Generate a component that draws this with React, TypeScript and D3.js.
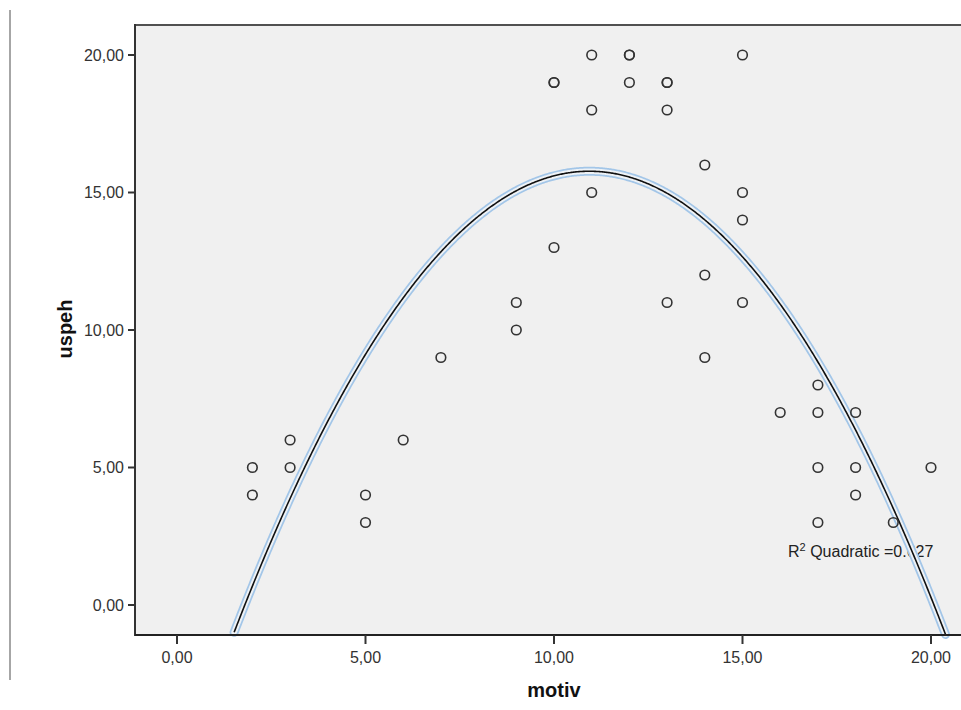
import React from 'react';
import * as d3 from 'd3';

// observations (motiv, uspeh)
const motiv = [2, 2, 3, 3, 5, 5, 6, 7, 9, 9, 10, 10, 10, 11, 11, 11, 12, 12, 12, 13, 13, 13, 13, 14, 14, 14, 15, 15, 15, 15, 16, 17, 17, 17, 17, 18, 18, 18, 19, 20];
const uspeh = [5, 4, 6, 5, 4, 3, 6, 9, 11, 10, 19, 19, 13, 20, 18, 15, 20, 20, 19, 19, 19, 18, 11, 16, 12, 9, 20, 15, 14, 11, 7, 8, 7, 5, 3, 7, 5, 4, 3, 5];
const xTicks = [0, 5, 10, 15, 20];
const yTicks = [0, 5, 10, 15, 20];

// quadratic least squares fit
function fitQuadratic(xs: number[], ys: number[]) {
    const S = [0, 0, 0, 0, 0];
    const T = [0, 0, 0];
    xs.forEach((x, i) => {
        for (let k = 0; k < 5; k++) S[k] += Math.pow(x, k);
        for (let k = 0; k < 3; k++) T[k] += Math.pow(x, k) * ys[i];
    });
    const m = [
        [S[0], S[1], S[2], T[0]],
        [S[1], S[2], S[3], T[1]],
        [S[2], S[3], S[4], T[2]],
    ];
    for (let c = 0; c < 3; c++) {
        for (let r = c + 1; r < 3; r++) {
            const f = m[r][c] / m[c][c];
            for (let k = c; k < 4; k++) m[r][k] -= f * m[c][k];
        }
    }
    const b = [0, 0, 0];
    for (let r = 2; r >= 0; r--) {
        let s = m[r][3];
        for (let k = r + 1; k < 3; k++) s -= m[r][k] * b[k];
        b[r] = s / m[r][r];
    }
    const f = (x: number) => b[0] + b[1] * x + b[2] * x * x;
    const mean = d3.mean(ys) as number;
    const sst = d3.sum(ys, y => (y - mean) ** 2);
    const sse = d3.sum(xs, (x, i) => (ys[i] - f(x)) ** 2);
    return { f, r2: 1 - sse / sst };
}

export default function App() {
    const width = 961, height = 710;
    const left = 135, right = 961, top = 25, bottom = 635;

    const x = d3.scaleLinear().domain([0, 20]).range([177, 931]);
    const y = d3.scaleLinear().domain([0, 20]).range([605, 55]);
    const fmt = (v: number) => d3.format('.2f')(v).replace('.', ',');

    const fit = fitQuadratic(motiv, uspeh);
    const x0 = x.invert(left), x1 = x.invert(right);
    const yMin = y.invert(bottom);
    const samples = d3.range(0, 801).map(i => x0 + (x1 - x0) * i / 800)
        .map(v => [v, fit.f(v)] as [number, number])
        .filter(p => p[1] >= yMin);
    const line = d3.line<[number, number]>().x(d => x(d[0])).y(d => y(d[1]));
    const path = line(samples) || '';

    const font = 'Arial, "Liberation Sans", sans-serif';

    return (
        <svg width={width} height={height} style={{ position: 'absolute', left: 0, top: 0, background: '#fff' }}>
            <line x1={10} x2={10} y1={10} y2={680} stroke="#888" strokeWidth={1.5} />
            <rect x={left} y={top} width={right - left} height={bottom - top} fill="#f0f0f0" />
            <line x1={left} x2={right} y1={top} y2={top} stroke="#505050" strokeWidth={2} />

            <text x={788} y={557} fontFamily={font} fontSize={16} fill="#222">
                R<tspan dy={-6} fontSize={11}>2</tspan><tspan dy={6}> Quadratic =</tspan>{fit.r2.toFixed(3)}
            </text>

            <defs>
                <clipPath id="plotClip">
                    <rect x={left} y={top - 10} width={right - left} height={bottom - top + 20} />
                </clipPath>
            </defs>
            <g clipPath="url(#plotClip)">
                <path d={path} fill="none" stroke="#a3c6e8" strokeWidth={9} strokeLinecap="round" />
                <path d={path} fill="none" stroke="#eef2f6" strokeWidth={5.5} strokeLinecap="round" />
                <path d={path} fill="none" stroke="#111" strokeWidth={1.6} />
            </g>

            {motiv.map((m, i) => (
                <circle key={i} cx={x(m)} cy={y(uspeh[i])} r={4.8} fill="none" stroke="#333" strokeWidth={1.6} />
            ))}

            <line x1={left} x2={left} y1={top - 1} y2={bottom + 1} stroke="#333" strokeWidth={2} />
            <line x1={left} x2={right} y1={bottom} y2={bottom} stroke="#222" strokeWidth={2} />

            {yTicks.map(t => (
                <g key={'y' + t}>
                    <line x1={left - 7} x2={left} y1={y(t)} y2={y(t)} stroke="#333" strokeWidth={2} />
                    <text x={left - 11} y={y(t)} dy="0.35em" textAnchor="end" fontFamily={font} fontSize={16} fill="#333">{fmt(t)}</text>
                </g>
            ))}
            {xTicks.map(t => (
                <g key={'x' + t}>
                    <line x1={x(t)} x2={x(t)} y1={bottom} y2={bottom + 9} stroke="#333" strokeWidth={2} />
                    <text x={x(t)} y={663} textAnchor="middle" fontFamily={font} fontSize={16} fill="#333">{fmt(t)}</text>
                </g>
            ))}

            <text x={554} y={697} textAnchor="middle" fontFamily={font} fontSize={20} fontWeight="bold" fill="#111">motiv</text>
            <text transform="translate(72,329) rotate(-90)" textAnchor="middle" fontFamily={font} fontSize={20} fontWeight="bold" fill="#111">uspeh</text>
        </svg>
    );
}
